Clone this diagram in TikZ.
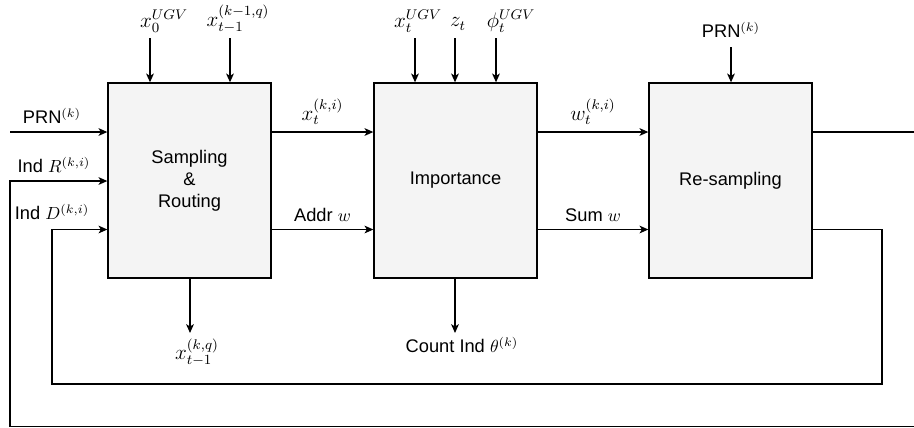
\documentclass[tikz,border=0pt]{standalone}
\usepackage{fontspec}
\setmainfont{Liberation Sans}
\usetikzlibrary{arrows.meta, positioning}

\begin{document}
\begin{tikzpicture}[
    x=0.02cm, y=-0.02cm,
    block/.style={rectangle, draw, fill=gray!9, line width=0.8pt, minimum width=3.26cm, minimum height=3.9cm, align=center, font=\fontsize{10.4}{12.4}\selectfont},
    lbl/.style={font=\fontsize{10.4}{12.4}\selectfont, inner sep=1pt},
    mlbl/.style={font=\fontsize{11.6}{13}\selectfont, inner sep=1pt},
    arrow/.style={-{Stealth[length=5pt, width=4.4pt, inset=1.3pt]}, line width=0.7pt},
    wire/.style={line width=0.7pt}
]
    \useasboundingbox (0,0) rectangle (914,427);

    % Blocks
    \node[block] (samp) at (189.5,180.5) {Sampling\\\&\\Routing};
    \node[block] (imp) at (455.5,180.5) {Importance};
    \node[block] (resamp) at (730.5,180.5) {Re-sampling};

    % Rows of the side connections
    \coordinate (rowA) at (0,132);
    \coordinate (rowB) at (0,181);
    \coordinate (rowC) at (0,229.5);

    % Inputs from above
    \coordinate (inX0) at (150,38);
    \coordinate (inXq) at (230,38);
    \coordinate (inXt) at (415,38);
    \coordinate (inZ) at (455,38);
    \coordinate (inPhi) at (496,38);
    \coordinate (inPrnR) at (731,47);
    \node[mlbl] (lblX0) at (164,21) {$x_0^{UGV}$};
    \node[mlbl] (lblXq) at (238,19) {$x_{t-1}^{(k-1,q)}$};
    \node[mlbl] (lblXt) at (418,21) {$x_t^{UGV}$};
    \node[mlbl] (lblZ) at (458,24) {$z_t$};
    \node[mlbl] (lblPhi) at (511,21) {$\phi_t^{UGV}$};
    \node[lbl] (lblPrnR) at (731,30) {PRN$^{(k)}$};
    \draw[arrow] (inX0) -- (inX0 |- samp.north);
    \draw[arrow] (inXq) -- (inXq |- samp.north);
    \draw[arrow] (inXt) -- (inXt |- imp.north);
    \draw[arrow] (inZ) -- (inZ |- imp.north);
    \draw[arrow] (inPhi) -- (inPhi |- imp.north);
    \draw[arrow] (inPrnR) -- (inPrnR |- resamp.north);

    % Inputs from the left
    \coordinate (inPrn) at (10,132);
    \node[lbl] (lblPrn) at (52,116) {PRN$^{(k)}$};
    \node[lbl] (lblR) at (54,165) {Ind $R^{(k,i)}$};
    \node[lbl] (lblD) at (52,212) {Ind $D^{(k,i)}$};
    \draw[arrow] (inPrn) -- (inPrn -| samp.west);

    % Between blocks
    \draw[arrow] (samp.east |- rowA) -- (imp.west |- rowA)
        node[mlbl, midway, above=3pt] (lblXi) {$x_t^{(k,i)}$};
    \draw[arrow] (samp.east |- rowC) -- (imp.west |- rowC)
        node[lbl, midway, above=3pt] (lblAddr) {Addr $w$};
    \draw[arrow] (imp.east |- rowA) -- (resamp.west |- rowA)
        node[mlbl, midway, above=3pt] (lblW) {$w_t^{(k,i)}$};
    \draw[arrow] (imp.east |- rowC) -- (resamp.west |- rowC)
        node[lbl, midway, above=3pt] (lblSum) {Sum $w$};

    % Outputs below
    \coordinate (outQ) at (190,333);
    \coordinate (outCnt) at (455,333);
    \node[mlbl, below=2pt of outQ, xshift=4pt] (lblOutQ) {$x_{t-1}^{(k,q)}$};
    \node[lbl, below=1pt of outCnt, xshift=4pt] (lblCnt) {Count Ind $\theta^{(k)}$};
    \draw[arrow] (outQ |- samp.south) -- (outQ);
    \draw[arrow] (outCnt |- imp.south) -- (outCnt);

    % Feedback loops
    \coordinate (innerBR) at (882,384);
    \coordinate (innerBL) at (52,384);
    \coordinate (outerBR) at (930,426.5);
    \coordinate (outerBL) at (10,426.5);
    \draw[arrow] (resamp.east |- rowC) -| (innerBR) -- (innerBL) |- (samp.west |- rowC);
    \draw[arrow] (resamp.east |- rowA) -| (outerBR) -- (outerBL) |- (samp.west |- rowB);
\end{tikzpicture}
\end{document}
